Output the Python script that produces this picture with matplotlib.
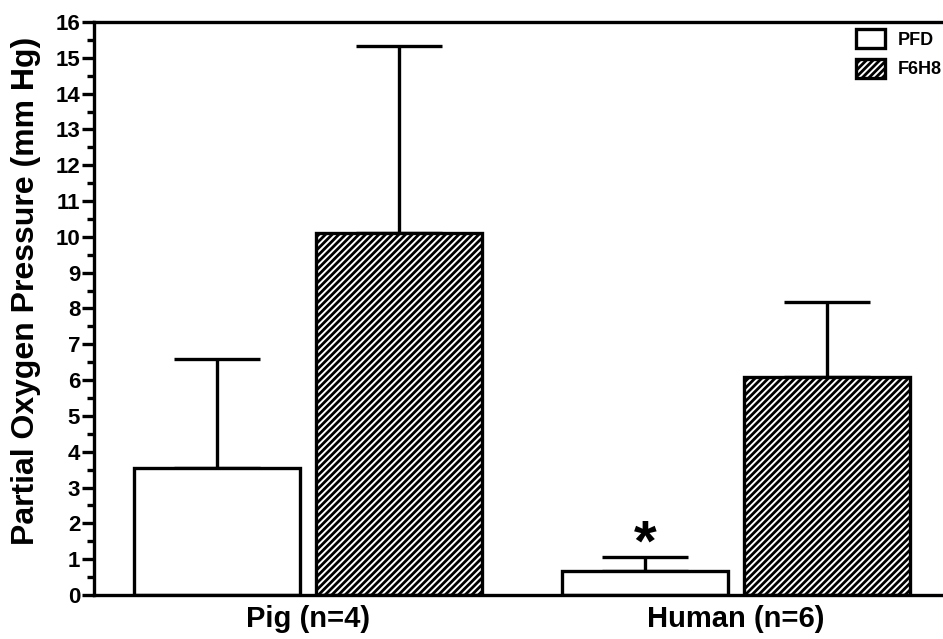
import matplotlib
matplotlib.use("Agg")
import matplotlib.pyplot as plt
import numpy as np

groups = ["Pig (n=4)", "Human (n=6)"]
series = ["PFD", "F6H8"]
pfd_mean = [3.55, 0.67]
pfd_err = [3.03, 0.40]
f6h8_mean = [10.1, 6.08]
f6h8_err = [5.22, 2.10]
yticks = list(range(0, 17))

plt.rcParams['font.family'] = ['Liberation Sans', 'DejaVu Sans']
plt.rcParams['font.weight'] = 'bold'
plt.rcParams['hatch.linewidth'] = 2.0

fig = plt.figure(figsize=(9.43, 6.39), dpi=100)
ax = fig.add_axes([0.0997, 0.0689, 0.9003, 0.8967])

x = np.arange(len(groups))
w = 0.388
off = 0.2127
lw = 2.4

b1 = ax.bar(x - off, pfd_mean, w, color='white', edgecolor='black', linewidth=lw, label=series[0], zorder=2)
b2 = ax.bar(x + off, f6h8_mean, w, color='white', edgecolor='black', linewidth=lw, hatch='/////', label=series[1], zorder=2)

ax.errorbar(x - off, pfd_mean, yerr=[np.zeros(len(groups)), pfd_err], fmt='none', ecolor='black',
            elinewidth=lw, capsize=31, capthick=lw, zorder=1)
ax.errorbar(x + off, f6h8_mean, yerr=[np.zeros(len(groups)), f6h8_err], fmt='none', ecolor='black',
            elinewidth=lw, capsize=31, capthick=lw, zorder=1)

ax.text(x[1] - off, pfd_mean[1] + pfd_err[1] - 0.45, "*", ha='center', va='bottom', fontsize=42, fontweight='bold')

ax.set_xlim(-0.5, 1.484)
ax.set_ylim(0, 16)
ax.set_yticks(yticks)
ax.set_yticks(np.arange(0.5, 16, 1), minor=True)
ax.set_xticks(x)
ax.set_xticklabels(groups, fontsize=21, fontweight='bold')
ax.tick_params(axis='x', length=0, pad=7)
ax.tick_params(axis='y', which='major', length=9, width=lw, labelsize=16, pad=1)
ax.tick_params(axis='y', which='minor', length=5, width=lw)
for t in ax.get_yticklabels():
    t.set_fontweight('bold')
ax.set_ylabel("Partial Oxygen Pressure (mm Hg)", fontsize=23, fontweight='bold')
ax.yaxis.set_label_coords(-0.062, 0.53)

for s in ['left', 'bottom', 'top']:
    ax.spines[s].set_linewidth(lw)
ax.spines['right'].set_visible(False)

leg = ax.legend(loc='upper right', frameon=False, fontsize=13, handlelength=1.6, handleheight=1.25,
                borderaxespad=0.25, handletextpad=0.7, labelspacing=0.55, bbox_to_anchor=(1.012, 1.008))
for t in leg.get_texts():
    t.set_fontweight('bold')

fig.savefig("out.png", dpi=100)
